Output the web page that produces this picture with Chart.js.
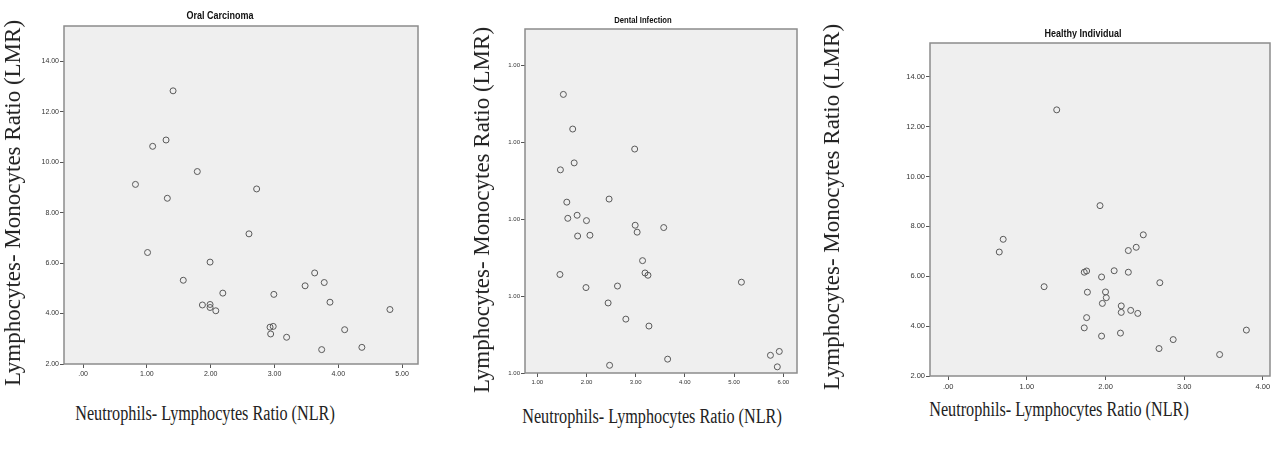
<!DOCTYPE html>
<html>
<head>
<meta charset="utf-8">
<script src="https://cdn.jsdelivr.net/npm/chart.js@4.4.1/dist/chart.umd.min.js"></script>
<style>
  body { margin: 0; background: #fff; }
  #wrap { position: relative; width: 1279px; height: 452px; overflow: hidden; }
  canvas { position: absolute; top: 0; }
  .t { position: absolute; white-space: nowrap; color: #222; }
  .ytitle { font: 23px "Liberation Serif", "DejaVu Serif", serif; transform: translate(-50%, -50%) rotate(-90deg); }
  .xtitle { font: 20px "Liberation Serif", "DejaVu Serif", serif; transform: translate(-50%, -50%) scaleX(0.81); }
  .ptitle { font: bold 10px "Liberation Sans", Arial, sans-serif; transform: translate(-50%, -50%) scaleX(0.9); color: #111; }
</style>
</head>
<body>
<div id="wrap">
  <canvas id="oralChart" width="430" height="390" style="left:0px"></canvas>
  <canvas id="dentalChart" width="400" height="390" style="left:430px"></canvas>
  <canvas id="healthyChart" width="439" height="390" style="left:840px"></canvas>

  <div class="t ptitle" style="left:220px; top:15px">Oral Carcinoma</div>
  <div class="t ptitle" style="left:643px; top:20px; font-size:8.5px">Dental Infection</div>
  <div class="t ptitle" style="left:1083px; top:33px">Healthy Individual</div>

  <div class="t ytitle" style="left:13px; top:203px">Lymphocytes- Monocytes Ratio (LMR)</div>
  <div class="t ytitle" style="left:482px; top:210px">Lymphocytes- Monocytes Ratio (LMR)</div>
  <div class="t ytitle" style="left:832px; top:207px">Lymphocytes- Monocytes Ratio (LMR)</div>

  <div class="t xtitle" style="left:205px; top:413px">Neutrophils- Lymphocytes Ratio (NLR)</div>
  <div class="t xtitle" style="left:652px; top:416px">Neutrophils- Lymphocytes Ratio (NLR)</div>
  <div class="t xtitle" style="left:1059px; top:409px">Neutrophils- Lymphocytes Ratio (NLR)</div>
</div>
<script>
// Oral Carcinoma
var oralNLR = [1.41, 1.30, 1.09, 1.79, 0.82, 2.72, 1.32, 2.60, 1.01, 1.99, 1.57, 3.63, 3.48, 3.78, 2.19,
               2.99, 3.87, 1.87, 1.99, 1.99, 2.08, 4.81, 2.93, 2.98, 2.94, 3.19, 4.10, 3.74, 4.37];
var oralLMR = [12.83, 10.88, 10.63, 9.63, 9.12, 8.94, 8.57, 7.16, 6.42, 6.04, 5.32, 5.61, 5.10, 5.23, 4.81,
               4.76, 4.45, 4.34, 4.36, 4.24, 4.11, 4.16, 3.46, 3.49, 3.19, 3.06, 3.36, 2.57, 2.66];

// Dental Infection
var dentalNLR = [1.53, 1.72, 2.98, 1.47, 1.75, 2.46, 1.60, 1.62, 1.81, 2.00, 2.99, 3.03, 3.57, 1.82, 2.07,
                 3.14, 3.19, 3.25, 1.46, 5.15, 1.99, 2.63, 2.44, 2.80, 3.27, 3.65, 2.47, 5.74, 5.92, 5.88];
var dentalLMR = [4.62, 4.17, 3.91, 3.64, 3.73, 3.26, 3.22, 3.01, 3.05, 2.98, 2.92, 2.83, 2.89, 2.78, 2.79,
                 2.46, 2.30, 2.27, 2.28, 2.18, 2.11, 2.13, 1.91, 1.70, 1.61, 1.18, 1.10, 1.23, 1.28, 1.08];

// Healthy Individual
var healthyNLR = [1.38, 1.93, 2.48, 0.70, 2.39, 2.29, 0.65, 1.76, 1.73, 2.11, 2.29, 1.95, 2.69, 1.22, 1.77,
                  2.00, 2.01, 1.96, 2.20, 2.20, 2.32, 2.41, 1.76, 1.73, 3.79, 2.19, 1.95, 2.86, 2.68, 3.45];
var healthyLMR = [12.67, 8.83, 7.66, 7.48, 7.16, 7.03, 6.97, 6.21, 6.16, 6.22, 6.16, 5.97, 5.74, 5.58, 5.36,
                  5.37, 5.14, 4.91, 4.81, 4.55, 4.63, 4.51, 4.34, 3.93, 3.84, 3.72, 3.60, 3.46, 3.10, 2.86];

// tick values and labels
var oralXTicks = [0, 1, 2, 3, 4, 5];
var oralXLabels = ['.00', '1.00', '2.00', '3.00', '4.00', '5.00'];
var oralYTicks = [2, 4, 6, 8, 10, 12, 14];
var oralYLabels = ['2.00', '4.00', '6.00', '8.00', '10.00', '12.00', '14.00'];

var dentalXTicks = [1, 2, 3, 4, 5, 6];
var dentalXLabels = ['1.00', '2.00', '3.00', '4.00', '5.00', '6.00'];
var dentalYTicks = [1, 2, 3, 4, 5];
var dentalYLabels = ['1.00', '1.00', '1.00', '1.00', '1.00'];

var healthyXTicks = [0, 1, 2, 3, 4];
var healthyXLabels = ['.00', '1.00', '2.00', '3.00', '4.00'];
var healthyYTicks = [2, 4, 6, 8, 10, 12, 14];
var healthyYLabels = ['2.00', '4.00', '6.00', '8.00', '10.00', '12.00', '14.00'];

// grey plot box like the SPSS output
var frame = {
    id: 'frame',
    beforeDatasetsDraw: function (chart) {
        var a = chart.chartArea, ctx = chart.ctx;
        ctx.save();
        ctx.fillStyle = '#efefef';
        ctx.fillRect(a.left, a.top, a.right - a.left, a.bottom - a.top);
        ctx.restore();
    },
    afterDraw: function (chart) {
        var a = chart.chartArea, ctx = chart.ctx;
        ctx.save();
        ctx.strokeStyle = '#8c8c8c';
        ctx.lineWidth = 1.5;
        ctx.strokeRect(a.left, a.top, a.right - a.left, a.bottom - a.top);
        ctx.restore();
    }
};

var makeChart = function (id, xs, ys, o) {
    var pts = xs.map(function (x, i) { return { x: x, y: ys[i] }; });
    return new Chart(id, {
        type: 'scatter',
        data: {
            datasets: [{
                data: pts,
                pointRadius: 3,
                pointBorderWidth: 1,
                pointBorderColor: '#5a5a5a',
                pointBackgroundColor: 'rgba(0,0,0,0)',
                pointHoverRadius: 3
            }]
        },
        options: {
            responsive: false,
            animation: false,
            events: [],
            layout: { padding: { left: 0, top: o.top, right: o.right, bottom: 0 } },
            plugins: { legend: { display: false }, tooltip: { enabled: false } },
            scales: {
                x: {
                    type: 'linear', min: o.xMin, max: o.xMax,
                    afterFit: function (s) { s.height = o.xH; },
                    afterBuildTicks: function (s) { s.ticks = o.xTicks.map(function (v) { return { value: v }; }); },
                    grid: { drawOnChartArea: false, drawTicks: true, tickLength: 4, tickColor: '#555', tickWidth: 1 },
                    border: { display: false },
                    ticks: {
                        autoSkip: false, maxRotation: 0, padding: 2, color: '#333',
                        font: { family: 'Liberation Sans', size: o.fs },
                        callback: function (v) { var i = o.xTicks.indexOf(v); return i < 0 ? '' : o.xLabels[i]; }
                    }
                },
                y: {
                    type: 'linear', min: o.yMin, max: o.yMax,
                    afterFit: function (s) { s.width = o.yW; },
                    afterBuildTicks: function (s) { s.ticks = o.yTicks.map(function (v) { return { value: v }; }); },
                    grid: { drawOnChartArea: false, drawTicks: true, tickLength: 4, tickColor: '#555', tickWidth: 1 },
                    border: { display: false },
                    ticks: {
                        autoSkip: false, padding: 1, color: '#333',
                        font: { family: 'Liberation Sans', size: o.fs },
                        callback: function (v) { var i = o.yTicks.indexOf(v); return i < 0 ? '' : o.yLabels[i]; }
                    }
                }
            }
        },
        plugins: [frame]
    });
};

makeChart('oralChart', oralNLR, oralLMR, {
    xMin: -0.3, xMax: 5.25, yMin: 2, yMax: 15.4,
    xTicks: oralXTicks, xLabels: oralXLabels, yTicks: oralYTicks, yLabels: oralYLabels,
    top: 26, right: 12, yW: 64, xH: 26, fs: 7
});

makeChart('dentalChart', dentalNLR, dentalLMR, {
    xMin: 0.75, xMax: 6.28, yMin: 1, yMax: 5.47,
    xTicks: dentalXTicks, xLabels: dentalXLabels, yTicks: dentalYTicks, yLabels: dentalYLabels,
    top: 29, right: 33, yW: 95, xH: 17, fs: 6
});

makeChart('healthyChart', healthyNLR, healthyLMR, {
    xMin: -0.23, xMax: 4.09, yMin: 2, yMax: 15.35,
    xTicks: healthyXTicks, xLabels: healthyXLabels, yTicks: healthyYTicks, yLabels: healthyYLabels,
    top: 43, right: 9, yW: 90, xH: 14, fs: 7.5
});
</script>
</body>
</html>
